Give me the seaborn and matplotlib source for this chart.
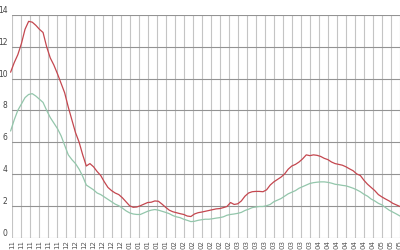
import matplotlib
matplotlib.use("Agg")
import matplotlib.pyplot as plt
import seaborn as sns
import pandas as pd

# day index (every 2 days)
days = list(range(-1, 216, 2))

red_values = [
    10.4, 11.0, 11.5, 12.2, 13.1, 13.6, 13.55, 13.35, 13.1, 12.9,
    12.0, 11.3, 10.85, 10.3, 9.7, 9.1, 8.2, 7.4, 6.6, 6.0,
    5.2, 4.5, 4.65, 4.45, 4.15, 3.9, 3.5, 3.15, 2.95, 2.8,
    2.7, 2.5, 2.25, 2.0, 1.9, 1.92, 2.0, 2.1, 2.2, 2.22,
    2.3, 2.28, 2.1, 1.9, 1.72, 1.62, 1.56, 1.5, 1.45, 1.35,
    1.32, 1.48, 1.56, 1.6, 1.65, 1.7, 1.75, 1.8, 1.82, 1.88,
    1.95, 2.2, 2.08, 2.12, 2.3, 2.6, 2.8, 2.88, 2.9, 2.9,
    2.88, 3.0, 3.3, 3.5, 3.65, 3.8, 4.0, 4.3, 4.5, 4.6,
    4.75, 4.95, 5.2, 5.15, 5.2, 5.17, 5.1, 4.98, 4.9, 4.75,
    4.65, 4.6, 4.55, 4.45, 4.32, 4.2, 4.0, 3.9, 3.6, 3.35,
    3.15, 2.95, 2.7, 2.55, 2.42, 2.3, 2.15, 2.05, 1.95,
]

green_values = [
    6.7, 7.4, 8.0, 8.4, 8.8, 9.0, 9.05, 8.9, 8.7, 8.5,
    8.0, 7.55, 7.2, 6.85, 6.4, 5.8, 5.2, 4.9, 4.65, 4.3,
    3.85, 3.3, 3.15, 3.0, 2.8, 2.7, 2.55, 2.4, 2.25, 2.1,
    2.0, 1.85, 1.68, 1.55, 1.48, 1.45, 1.45, 1.55, 1.65, 1.72,
    1.76, 1.72, 1.65, 1.58, 1.5, 1.38, 1.3, 1.25, 1.15, 1.08,
    1.0, 1.02, 1.08, 1.12, 1.15, 1.15, 1.18, 1.22, 1.25, 1.3,
    1.4, 1.45, 1.48, 1.52, 1.58, 1.7, 1.78, 1.88, 1.92, 1.95,
    1.95, 2.0, 2.08, 2.25, 2.35, 2.45, 2.6, 2.75, 2.85, 2.95,
    3.1, 3.2, 3.3, 3.4, 3.45, 3.48, 3.5, 3.5, 3.47, 3.42,
    3.35, 3.32, 3.28, 3.25, 3.18, 3.1, 3.0, 2.88, 2.72, 2.6,
    2.42, 2.3, 2.15, 2.05, 1.88, 1.72, 1.6, 1.48, 1.35,
]

tick_days = list(range(0, 216, 5))
tick_labels = (["11"] * 6 + ["12"] * 7 + ["01"] * 5 + ["02"] * 7 +
               ["03"] * 9 + ["04"] * 7 + ["05"] * 3)
y_ticks = [0, 2, 4, 6, 8, 10, 12, 14]

df = pd.DataFrame({"day": days, "red": red_values, "green": green_values})

sns.set_style("white")
fig = plt.figure(figsize=(4, 2.5), dpi=100)
ax = fig.add_axes([0.031, 0.05, 0.969, 0.89])

sns.lineplot(data=df, x="day", y="red", ax=ax, color="#c4474f", linewidth=0.9)
sns.lineplot(data=df, x="day", y="green", ax=ax, color="#93c6ab", linewidth=0.9)
for ln in ax.get_lines():
    ln.set_clip_on(False)

ax.set_xlim(0, 214)
ax.set_ylim(0, 14)
ax.set_xticks(tick_days)
ax.set_xticklabels(tick_labels, rotation=90, fontsize=5, color="#555555")
ax.set_yticks(y_ticks)
ax.set_yticklabels([str(v) for v in y_ticks], fontsize=5.5, color="#444444")
for lbl in ax.get_yticklabels():
    lbl.set_verticalalignment("bottom")
ax.tick_params(axis="x", length=0, pad=2)
ax.tick_params(axis="y", length=0, pad=3.5)

ax.grid(False)
for d in tick_days:
    ax.axvline(d, color="#c4c4c4", linewidth=0.8, zorder=0)
for v in y_ticks:
    ax.axhline(v, color="#939393", linewidth=0.8, zorder=0)

for s in ax.spines.values():
    s.set_visible(False)
ax.set_xlabel("")
ax.set_ylabel("")

fig.savefig("out.png", dpi=100)
